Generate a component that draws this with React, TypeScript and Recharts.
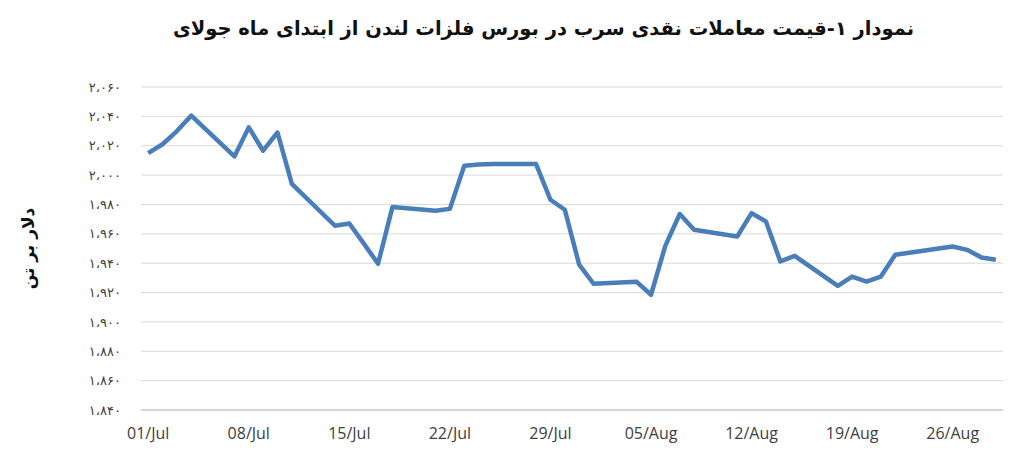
import { LineChart, Line, XAxis, YAxis, CartesianGrid } from "recharts"

// trading days counted from 01/Jul
const days = [0, 1, 2, 3, 6, 7, 8, 9, 10, 13, 14, 15, 16, 17, 20, 21, 22, 23, 24, 27, 28, 29, 30, 31, 34, 35, 36, 37, 38, 41, 42, 43, 44, 45, 48, 49, 50, 51, 52, 56, 57, 58, 59];
const prices = [2015, 2021, 2030, 2040.5, 2012.7, 2032.5, 2016.6, 2029, 1994, 1965.5, 1967, 1953.5, 1939.6, 1978.2, 1975.7, 1977, 2006.4, 2007.2, 2007.5, 2007.5, 1983.2, 1976.4, 1939, 1926, 1927.3, 1918.5, 1952, 1973.5, 1962.8, 1958.2, 1974.1, 1968.4, 1941.2, 1945, 1924.6, 1930.9, 1927.5, 1930.9, 1945.7, 1951.4, 1949.1, 1943.9, 1942.3];

const xTicks = [0, 7, 14, 21, 28, 35, 42, 49, 56];
const xTickLabels = ['01/Jul', '08/Jul', '15/Jul', '22/Jul', '29/Jul', '05/Aug', '12/Aug', '19/Aug', '26/Aug'];

const yTicks = [1840, 1860, 1880, 1900, 1920, 1940, 1960, 1980, 2000, 2020, 2040, 2060];
const yTickLabels = ['۱،۸۴۰', '۱،۸۶۰', '۱،۸۸۰', '۱،۹۰۰', '۱،۹۲۰', '۱،۹۴۰', '۱،۹۶۰', '۱،۹۸۰', '۲،۰۰۰', '۲،۰۲۰', '۲،۰۴۰', '۲،۰۶۰'];

const title = 'نمودار ۱-قیمت معاملات نقدی سرب در بورس فلزات لندن از ابتدای ماه جولای';
const yLabel = 'دلار بر تن';

const data = days.map((d, i) => ({ day: d, price: prices[i] }));

export default function App() {
    return (
        <div style={{ position: 'absolute', left: 0, top: 0, width: 1017, height: 465, background: '#fff' }}>
            <div
                dir="rtl"
                style={{
                    position: 'absolute', left: 70, top: 17, width: 947, textAlign: 'center',
                    fontFamily: '"DejaVu Sans", sans-serif', fontWeight: 'bold', fontSize: 19.5, color: '#111',
                }}
            >
                {title}
            </div>
            <LineChart
                width={1017}
                height={465}
                data={data}
                margin={{ top: 87, right: 14, left: 0, bottom: 0 }}
            >
                <CartesianGrid vertical={false} stroke="#d9d9d9" />
                <XAxis
                    dataKey="day"
                    type="number"
                    domain={[-0.5, 59.5]}
                    ticks={xTicks}
                    tickFormatter={(v: number) => xTickLabels[xTicks.indexOf(v)]}
                    height={55}
                    tickLine={false}
                    axisLine={{ stroke: '#bfbfbf' }}
                    tickMargin={12}
                    tick={{ fill: '#404040', fontSize: 16, fontFamily: '"Open Sans", sans-serif' }}
                />
                <YAxis
                    type="number"
                    domain={[1840, 2060]}
                    ticks={yTicks}
                    tickFormatter={(v: number) => yTickLabels[yTicks.indexOf(v)]}
                    width={141}
                    tickLine={false}
                    axisLine={false}
                    tickMargin={14}
                    tick={{ fill: '#404040', fontSize: 13, fontFamily: '"DejaVu Sans", sans-serif' }}
                    label={{
                        value: yLabel,
                        angle: -90,
                        position: 'insideLeft',
                        offset: 28,
                        style: { fontFamily: '"DejaVu Sans", sans-serif', fontWeight: 'bold', fontSize: 17, fill: '#111', textAnchor: 'middle' },
                    }}
                />
                <Line
                    type="linear"
                    dataKey="price"
                    stroke="#4a7ebb"
                    strokeWidth={4.5}
                    strokeLinejoin="round"
                    dot={false}
                    isAnimationActive={false}
                />
            </LineChart>
        </div>
    )
}
